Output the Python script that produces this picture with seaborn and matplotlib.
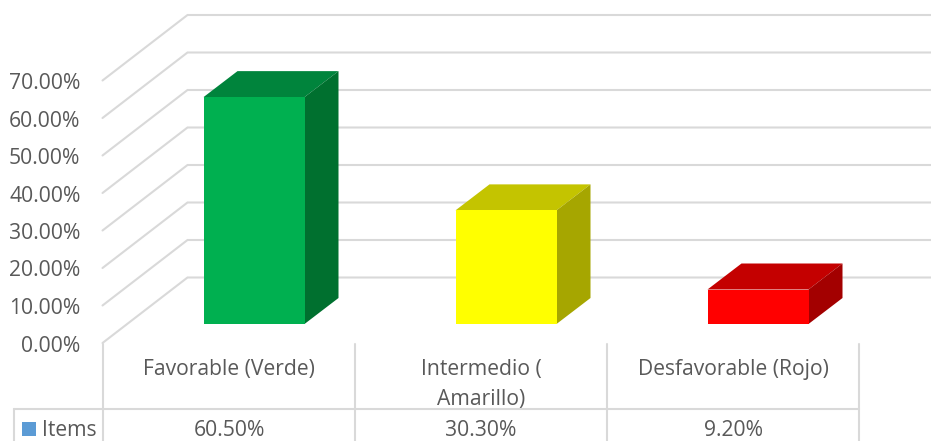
import matplotlib
matplotlib.use("Agg")
import matplotlib.pyplot as plt
from matplotlib.patches import Polygon, Rectangle
import pandas as pd
import seaborn as sns

categories = ["Favorable (Verde)", "Intermedio (\nAmarillo)", "Desfavorable (Rojo)"]
values = [60.5, 30.3, 9.2]
value_labels = ["60.50%", "30.30%", "9.20%"]
y_ticks = [0, 10, 20, 30, 40, 50, 60, 70]
series_name = "Items"

front_colors = ["#00B050", "#FFFF00", "#FF0000"]
top_colors = ["#00843C", "#C4C400", "#C40000"]
side_colors = ["#00702F", "#A6A600", "#A30000"]
grid_color = "#D9D9D9"
text_color = "#595959"

W, H = 931, 441
X0, XSTEP = 254.0, 252.0   # pixel centre of first bar, spacing
Y0, YSTEP = 324.0, 3.75    # pixel of the bar base, pixels per 1%
FS = 15.2


def px(x):
    return (x - X0) / XSTEP


def py(y):
    return (Y0 - y) / YSTEP


sns.set_style("white")
plt.rcParams["font.family"] = ["Open Sans", "DejaVu Sans"]

fig = plt.figure(figsize=(W / 100, H / 100), dpi=100)
ax = fig.add_axes([0, 0, 1, 1])

df = pd.DataFrame({"cat": categories, "val": values})
sns.barplot(data=df, x="cat", y="val", hue="cat", palette=front_colors, order=categories,
            hue_order=categories, width=101 / XSTEP, dodge=False, legend=False, ax=ax,
            saturation=1, zorder=4, linewidth=0)
ax.set_xlim(px(0), px(W))
ax.set_ylim(py(H), py(0))
ax.axis("off")

# depth of the 3d bars, in data units
dx = 34 / XSTEP
dy = 26 / YSTEP

for bar, top_c, side_c in zip(ax.patches, top_colors, side_colors):
    x1 = bar.get_x()
    x2 = x1 + bar.get_width()
    h = bar.get_height()
    ax.add_patch(Polygon([(x1, h), (x2, h), (x2 + dx, h + dy), (x1 + dx, h + dy)],
                         fc=top_c, ec="none", zorder=3))
    ax.add_patch(Polygon([(x2, 0), (x2, h), (x2 + dx, h + dy), (x2 + dx, dy)],
                         fc=side_c, ec="none", zorder=3))

# gridlines: floor/wall in fake perspective
line_w = 1.5
for t in y_ticks:
    front_y = py(343 - t * YSTEP)
    back_y = py(277.5 - t * YSTEP)
    ax.plot([px(102.5), px(187.5), px(W)], [front_y, back_y, back_y], color=grid_color,
            lw=line_w, zorder=1, solid_joinstyle="miter")
    ax.text(px(80.5), py(346 - t * YSTEP), f"{t:.2f}%", ha="right", va="center",
            fontsize=FS, color=text_color)

# data table under the chart
ax.plot([px(14), px(859)], [py(409)] * 2, color=grid_color, lw=line_w, zorder=1)
ax.plot([px(14)] * 2, [py(409), py(H)], color=grid_color, lw=line_w, zorder=1)
for i in range(len(categories) + 1):
    vx = px(102.5 + i * XSTEP)
    ax.plot([vx, vx], [py(344), py(H)], color=grid_color, lw=line_w, zorder=1)

for i, (c, v) in enumerate(zip(categories, value_labels)):
    cx = px(229 + i * XSTEP)
    ax.text(cx, py(369), c.split("\n")[0], ha="center", va="center", fontsize=FS, color=text_color)
    if "\n" in c:
        ax.text(cx, py(399), c.split("\n")[1], ha="center", va="center", fontsize=FS, color=text_color)
    ax.text(cx, py(431), v, ha="center", va="center", fontsize=FS, color=text_color)

ax.add_patch(Rectangle((px(22), py(436)), 14 / XSTEP, 14 / YSTEP, fc="#5B9BD5", ec="none"))
ax.text(px(42), py(431), series_name, ha="left", va="center", fontsize=FS, color=text_color)

fig.savefig("out.png", dpi=100)
